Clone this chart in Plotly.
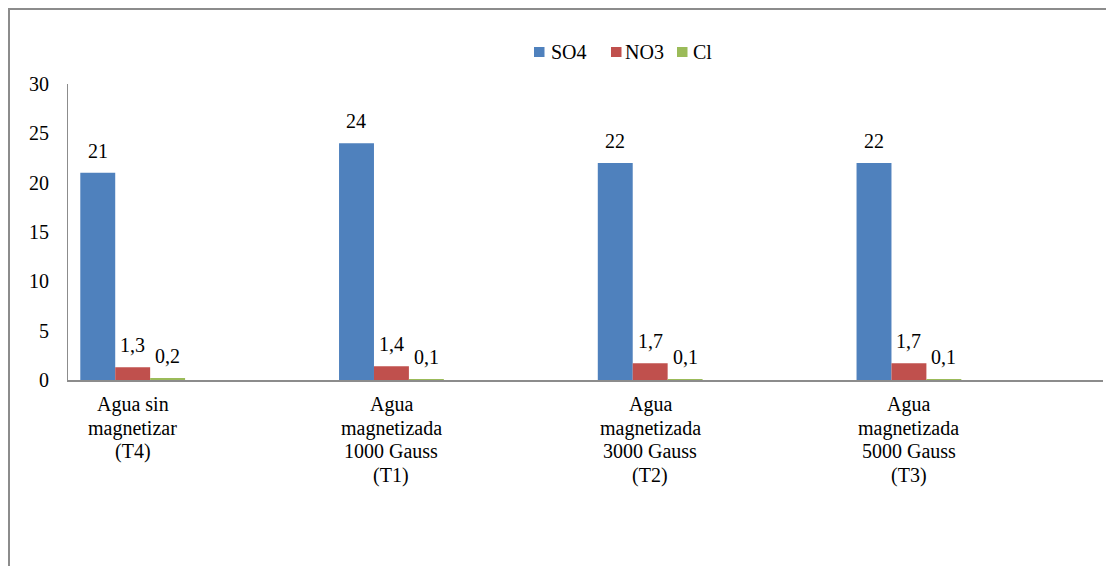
import plotly.graph_objects as go

categories = [["Agua sin", "magnetizar", "(T4)"],
              ["Agua", "magnetizada", "1000 Gauss", "(T1)"],
              ["Agua", "magnetizada", "3000 Gauss", "(T2)"],
              ["Agua", "magnetizada", "5000 Gauss", "(T3)"]]
series_names = ["SO4", "NO3", "Cl"]
so4 = [21, 24, 22, 22]
no3 = [1.3, 1.4, 1.7, 1.7]
cl = [0.2, 0.1, 0.1, 0.1]
y_ticks = [0, 5, 10, 15, 20, 25, 30]

colors = ["#4F81BD", "#C0504D", "#9BBB59"]
FONT = "Times New Roman, serif"
FS = 20

def fmt(v):
    s = f"{v:g}"
    return s.replace(".", ",")

# page has an 8px body margin; figure coordinates are offset by 8px
W, H = 1106, 558
L, R, T, B = 60, 11, 76, 186
pw = W - L - R
ph = H - T - B

def px_x(px):
    return (px - L) / pw

def px_y(py):
    return (T + ph - py) / ph

cat_idx = list(range(len(categories)))
fig = go.Figure()
annotations = []
for k, (name, vals, color) in enumerate(zip(series_names, [so4, no3, cl], colors)):
    fig.add_trace(go.Bar(
        name=name, x=cat_idx, y=vals, marker=dict(color=color, line=dict(width=0)),
        showlegend=False,
    ))
    for i, v in zip(cat_idx, vals):
        annotations.append(dict(
            x=i, y=v, xref="x", yref="y", text=fmt(v), showarrow=False,
            xshift=(k - 1) * 35, yshift=22, yanchor="middle", xanchor="center",
            font=dict(family=FONT, size=FS, color="black"),
        ))

# category labels, one line at a time
line_centers = [396.5, 420, 443.5, 467]
for i, lines in zip(cat_idx, categories):
    for j, line in enumerate(lines):
        annotations.append(dict(
            x=i, y=px_y(line_centers[j]), xref="x", yref="paper", text=line, showarrow=False,
            xanchor="center", yanchor="middle", font=dict(family=FONT, size=FS, color="black"),
        ))

# legend
shapes = []
leg_sq_left = [526, 603, 669]
leg_txt_left = [541, 615, 683]
leg_y = 44
for name, color, sq, tx in zip(series_names, colors, leg_sq_left, leg_txt_left):
    shapes.append(dict(type="rect", xref="paper", yref="paper",
                       x0=px_x(sq), x1=px_x(sq + 10.5), y0=px_y(leg_y + 5), y1=px_y(leg_y - 5),
                       line=dict(width=0), fillcolor=color))
    annotations.append(dict(x=px_x(tx), y=px_y(leg_y), xref="paper", yref="paper", text=name,
                            showarrow=False, xanchor="left", yanchor="middle",
                            font=dict(family=FONT, size=FS, color="black")))

# outer frame
shapes.append(dict(type="rect", xref="paper", yref="paper",
                   x0=px_x(1), x1=px_x(W + 20), y0=px_y(H + 20), y1=px_y(1),
                   line=dict(color="#8c8c8c", width=2), fillcolor="rgba(0,0,0,0)", layer="below"))

fig.update_layout(
    width=W, height=H,
    margin=dict(l=L, r=R, t=T, b=B),
    barmode="group", bargap=0.595, bargroupgap=0,
    plot_bgcolor="white", paper_bgcolor="white",
    font=dict(family=FONT, size=FS, color="black"),
    showlegend=False,
    xaxis=dict(range=[-0.25, 3.75], showline=True, linecolor="#8c8c8c", linewidth=2,
               ticks="", showgrid=False, zeroline=False, showticklabels=False),
    yaxis=dict(range=[0, 30], tickvals=y_ticks, showline=True, linecolor="#8c8c8c", linewidth=1,
               ticks="", showgrid=False, zeroline=False, tickfont=dict(family=FONT, size=FS),
               ticklabelstandoff=14),
    shapes=shapes,
    annotations=annotations,
)

fig.write_html("out.html")
